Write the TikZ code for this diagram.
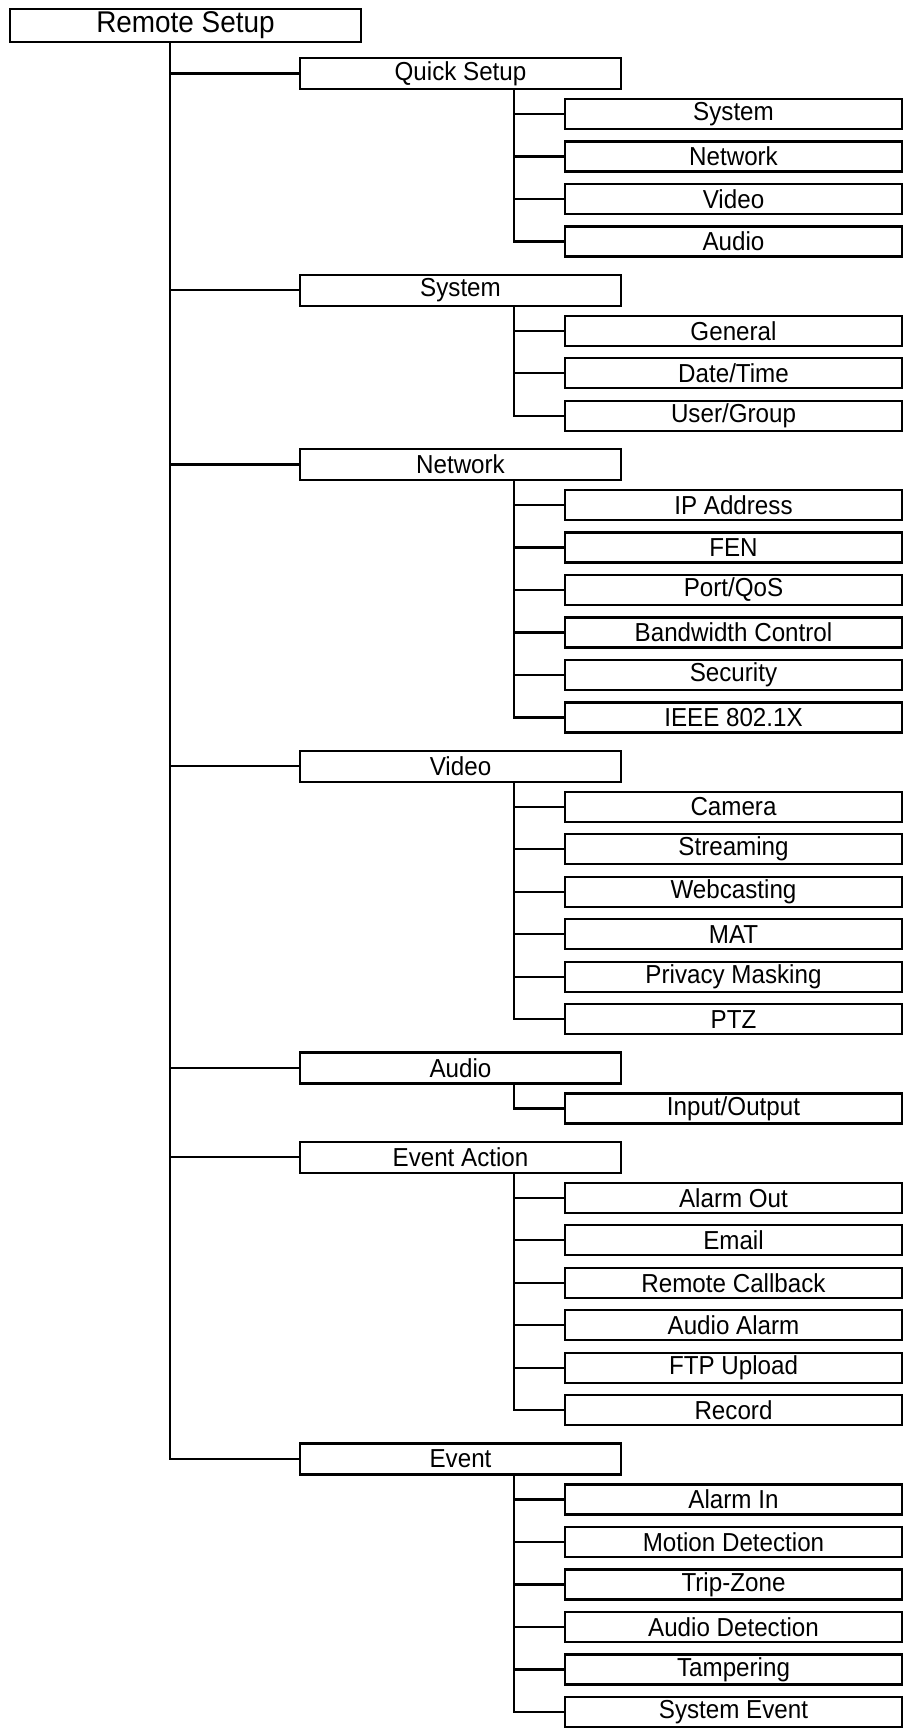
\documentclass[tikz,border=0pt]{standalone}
\usepackage{fontspec}
\setmainfont{Liberation Sans}[FakeStretch=0.93]
\begin{document}
\begin{tikzpicture}[x=1pt,y=1pt,line width=2.2pt,
  box/.style={draw,rectangle,inner sep=0pt,font=\fontsize{26}{28}\selectfont},
  root/.style={box,minimum width=351pt,minimum height=33pt,font=\fontsize{30}{32}\selectfont},
  l1/.style={box,minimum width=321pt,minimum height=31pt},
  l2/.style={box,minimum width=337pt,minimum height=30pt}]
\useasboundingbox (0,0) rectangle (909,-1731);
\newcommand\lone[3]{\node[l1] (#1) at (460.5,-#2) {#3};\draw (T |- #1.west) -- (#1.west);}
\newcommand\ltwo[3]{\node[l2] (#1) at (733.5,-#2) {#3};\draw (S |- #1.west) -- (#1.west);}
\coordinate (T) at (170,0);
\coordinate (S) at (514,0);
\node[root] (root) at (185.5,-25.5) {Remote Setup};
\lone{qs}{73.5}{Quick Setup}
\ltwo{qs1}{114}{System}
\ltwo{qs2}{156.5}{Network}
\ltwo{qs3}{199}{Video}
\ltwo{qs4}{241.5}{Audio}
\lone{sy}{290.25}{System}
\ltwo{sy1}{330.75}{General}
\ltwo{sy2}{373.25}{Date/Time}
\ltwo{sy3}{415.75}{User/Group}
\lone{nw}{464.5}{Network}
\ltwo{nw1}{505}{IP Address}
\ltwo{nw2}{547.5}{FEN}
\ltwo{nw3}{590}{Port/QoS}
\ltwo{nw4}{632.5}{Bandwidth Control}
\ltwo{nw5}{675}{Security}
\ltwo{nw6}{717.5}{IEEE 802.1X}
\lone{vd}{766.25}{Video}
\ltwo{vd1}{806.75}{Camera}
\ltwo{vd2}{849.25}{Streaming}
\ltwo{vd3}{891.75}{Webcasting}
\ltwo{vd4}{934.25}{MAT}
\ltwo{vd5}{976.75}{Privacy Masking}
\ltwo{vd6}{1019.25}{PTZ}
\lone{au}{1068}{Audio}
\ltwo{au1}{1108.5}{Input/Output}
\lone{ea}{1157.25}{Event Action}
\ltwo{ea1}{1197.75}{Alarm Out}
\ltwo{ea2}{1240.25}{Email}
\ltwo{ea3}{1282.75}{Remote Callback}
\ltwo{ea4}{1325.25}{Audio Alarm}
\ltwo{ea5}{1367.75}{FTP Upload}
\ltwo{ea6}{1410.25}{Record}
\lone{ev}{1459}{Event}
\ltwo{ev1}{1499.5}{Alarm In}
\ltwo{ev2}{1542}{Motion Detection}
\ltwo{ev3}{1584.5}{Trip-Zone}
\ltwo{ev4}{1627}{Audio Detection}
\ltwo{ev5}{1669.5}{Tampering}
\ltwo{ev6}{1712}{System Event}
\draw (T |- root.south) |- (ev.west);
\draw (S |- qs.south) |- (qs4.west);
\draw (S |- sy.south) |- (sy3.west);
\draw (S |- nw.south) |- (nw6.west);
\draw (S |- vd.south) |- (vd6.west);
\draw (S |- au.south) |- (au1.west);
\draw (S |- ea.south) |- (ea6.west);
\draw (S |- ev.south) |- (ev6.west);
\end{tikzpicture}
\end{document}
